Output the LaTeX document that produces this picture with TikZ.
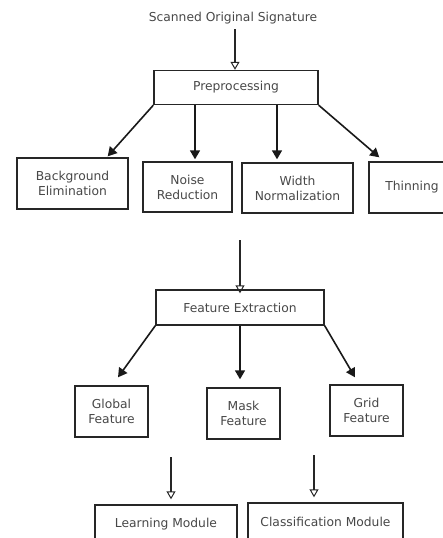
\documentclass[tikz,border=0pt]{standalone}
\usepackage{fontspec}
\setmainfont{DejaVu Sans}
\usetikzlibrary{arrows.meta,calc}
\begin{document}
\begin{tikzpicture}[x=1pt,y=-1pt,
  box/.style={draw=black!85, line width=1.4pt, rectangle, inner sep=0pt, align=center,
    text=black!72, font=\fontsize{12.3}{15}\selectfont},
  lbl/.style={inner sep=0pt, text=black!72, font=\fontsize{12.3}{15}\selectfont},
  openarr/.style={draw=black!85, line width=1.2pt, -{Triangle[open,length=8pt,width=9pt,line width=1pt]}},
  solidarr/.style={draw=black!90, line width=1.6pt, -{Triangle[length=9pt,width=10pt]}}]
\useasboundingbox (0,0) rectangle (443,538);
\clip (0,0) rectangle (443,538);
\node[lbl] (title) at (233,18) {Scanned Original Signature};
\node[box, minimum width=164pt, minimum height=34pt] (P) at (236,87.5) {Preprocessing};
\node[box, minimum width=111pt, minimum height=51pt] (B) at (72.5,183.5) {Background\\Elimination};
\node[box, minimum width=89pt, minimum height=50pt] (N) at (187.5,187) {Noise\\Reduction};
\node[box, minimum width=111pt, minimum height=50pt] (W) at (297.5,188) {Width\\Normalization};
\node[box, minimum width=86pt, minimum height=51pt] (T) at (412,187.5) {Thinning};
\coordinate (c1) at (240,240);
\node[box, minimum width=168pt, minimum height=35pt] (F) at (240,307.5) {Feature Extraction};
\node[box, minimum width=73pt, minimum height=51pt] (G) at (111.5,411.5) {Global\\Feature};
\node[box, minimum width=73pt, minimum height=51pt] (M) at (243.5,413.5) {Mask\\Feature};
\node[box, minimum width=73pt, minimum height=51pt] (R) at (366.5,410.5) {Grid\\Feature};
\coordinate (c2) at (171,457);
\coordinate (c3) at (314,455);
\node[box, minimum width=142pt, minimum height=38pt] (L) at (166,524) {Learning Module};
\node[box, minimum width=155pt, minimum height=38pt] (C) at (325.5,522) {Classification Module};
% arrows
\draw[openarr] ([yshift=-5pt]title.south -| 235,0) -- (235,0 |- P.north);
\draw[solidarr] (P.south west) -- ([xshift=-21pt,yshift=1pt]B.north east);
\draw[solidarr] ([xshift=-41pt]P.south) -- ([xshift=-41pt,yshift=2pt]P.south |- N.north);
\draw[solidarr] ([xshift=41pt]P.south) -- ([xshift=41pt,yshift=3pt]P.south |- W.north);
\draw[solidarr] (P.south east) -- ([xshift=11pt,yshift=4pt]T.north west);
\draw[openarr] (c1) -- ([yshift=-4pt]c1 |- F.north);
\draw[solidarr] (F.south west) -- ([xshift=6.5pt,yshift=8pt]G.north);
\draw[solidarr] (F.south) -- ([yshift=8pt]F.south |- M.north);
\draw[solidarr] (F.south east) -- ([xshift=-11.5pt,yshift=7pt]R.north);
\draw[openarr] (c2) -- ([yshift=5pt]c2 |- L.north);
\draw[openarr] (c3) -- ([yshift=5pt]c3 |- C.north);
\end{tikzpicture}
\end{document}
